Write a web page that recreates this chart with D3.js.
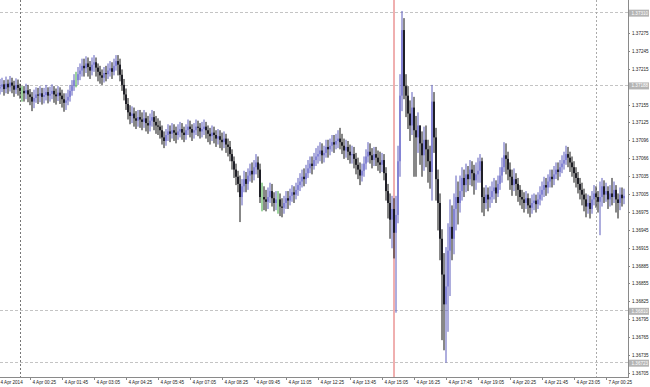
<!DOCTYPE html>
<html>
<head>
<meta charset="utf-8">
<script src="https://cdn.jsdelivr.net/npm/d3@7"></script>
<style>
  body { margin: 0; background: #fff; }
  svg { display: block; }
  .axis text { font-family: "Liberation Sans", Arial, sans-serif; font-size: 4.6px; fill: #222; }
  .axis path, .axis line { stroke: #8a8a8a; shape-rendering: crispEdges; }
</style>
</head>
<body>
<svg id="chart" width="650" height="387"></svg>
<script>
// M5 bars, prices in points (0.00001) above 1.36700; open = previous close
const base = 1.367;
const firstOpen = 482;
const closePts = [
  485,489,481,490,484,492,487,480,488,483,
  478,478,474,479,472,468,460,466,472,470,
  474,468,471,476,470,473,478,472,469,475,
  470,464,458,462,468,478,486,496,496,506,
  512,520,516,524,518,512,522,526,517,510,
  504,500,508,506,512,516,510,520,528,522,
  505,488,472,456,442,436,440,432,428,434,
  430,426,432,424,420,428,434,426,420,418,
  412,400,394,404,410,406,412,408,404,410,
  414,408,404,412,418,414,408,412,418,416,
  410,414,418,412,406,402,408,404,398,402,
  396,392,398,388,384,372,360,346,334,322,
  300,318,330,322,336,344,338,350,358,346,
  300,300,296,292,300,310,298,290,296,296,
  284,282,290,298,294,302,308,304,312,320,
  326,334,330,340,348,356,352,362,368,372,
  378,370,374,384,380,386,392,388,394,398,
  392,386,378,384,376,370,372,364,354,346,
  336,344,356,368,376,370,362,372,366,358,
  354,362,340,310,290,262,280,240,270,360,
  470,580,486,470,440,420,450,412,400,420,
  390,370,396,380,360,342,460,400,330,290,
  230,170,120,150,210,250,230,280,300,290,
  310,332,320,338,330,346,340,328,338,344,
  360,300,290,304,296,300,310,316,306,322,
  336,350,370,364,346,334,320,330,322,312,
  300,296,290,298,286,282,290,294,288,296,
  304,312,320,316,326,334,330,338,346,342,
  350,356,362,372,366,358,350,340,332,322,
  312,304,296,284,290,280,296,306,300,292,
  300,318,304,310,296,306,300,312,296,290,304,298,302
];
const highPts = [
  498,500,496,502,497,503,500,495,499,497,
  490,486,486,490,488,481,476,480,484,483,
  486,483,483,488,484,485,489,486,482,486,
  484,480,474,474,480,488,496,506,510,518,
  524,532,532,536,534,528,534,538,534,524,
  520,514,518,520,524,528,526,532,538,538,
  532,514,498,482,466,454,452,450,444,446,
  446,442,446,442,436,440,446,444,436,432,
  428,420,410,414,422,420,424,422,418,422,
  426,424,418,422,430,428,422,424,430,428,
  424,426,430,426,420,416,420,418,412,414,
  412,408,410,406,398,394,380,368,356,344,
  336,330,344,342,348,356,358,362,372,368,
  356,324,318,312,316,324,322,308,310,310,
  306,298,302,310,310,314,320,318,324,332,
  340,346,348,354,362,368,368,374,382,386,
  392,390,386,396,396,398,404,404,406,412,
  416,406,398,396,394,388,386,384,374,366,
  358,356,368,380,392,390,382,384,384,378,
  376,374,372,350,322,306,302,298,302,386,
  506,612,600,506,486,462,476,468,436,442,
  416,410,418,420,396,386,488,476,416,346,
  306,246,206,216,256,296,286,306,336,326,
  336,350,346,356,352,362,360,354,358,366,
  372,366,316,320,316,318,326,332,328,336,
  350,366,392,390,376,358,346,348,340,332,
  320,312,308,310,306,298,304,306,304,308,
  318,326,334,332,338,346,346,352,358,358,
  362,370,376,386,384,376,368,360,350,342,
  332,324,314,306,304,302,310,320,318,310,
  326,332,328,324,318,320,332,326,320,306,316,316,314
];
const lowPts = [
  472,476,470,474,473,477,474,468,473,470,
  465,460,460,464,459,454,444,449,458,456,
  459,455,457,462,457,460,464,458,455,461,
  456,450,443,446,454,460,470,478,484,488,
  496,502,502,508,502,498,504,510,502,494,
  490,488,492,494,498,502,498,504,512,504,
  494,478,462,446,430,422,424,418,414,418,
  416,412,416,410,406,410,418,412,406,404,
  398,388,382,386,394,392,398,394,390,396,
  400,396,392,396,404,400,394,398,404,402,
  398,400,404,398,392,388,394,390,384,388,
  382,378,382,374,368,360,346,332,320,308,
  258,286,308,308,312,326,324,328,338,332,
  290,276,278,276,280,290,284,276,278,272,
  268,266,272,280,280,286,292,290,296,302,
  310,316,318,322,332,340,338,346,352,356,
  360,356,358,366,366,370,376,374,380,382,
  380,372,364,366,362,356,356,348,338,330,
  320,326,334,346,358,356,348,352,352,344,
  340,342,328,294,264,230,214,197,106,256,
  334,444,464,434,414,394,404,334,334,374,
  354,334,344,350,324,314,294,374,294,244,
  194,60,43,22,74,134,194,204,244,254,
  274,294,300,308,310,320,318,304,312,324,
  324,274,268,280,276,282,290,296,290,300,
  312,324,342,338,328,312,302,310,302,292,
  286,280,274,280,272,266,272,278,274,280,
  286,294,300,302,306,316,316,320,330,328,
  334,340,346,354,350,342,334,324,316,306,
  296,286,276,266,272,264,272,286,282,274,
  236,284,290,292,280,284,286,290,274,264,278,284,288
];
const barsBeforeMidnight = 10;   // first bar is 3 Apr 23:10

// time axis: one label every 16 bars, bar index counted from 4 Apr 00:00
const timeTicks = [-11,5,21,37,53,69,85,101,117,133,149,165,181,197,213,229,245,261,277,293];
const timeLabels = ["4 Apr 2014","4 Apr 00:25","4 Apr 01:45","4 Apr 03:05","4 Apr 04:25","4 Apr 05:45",
  "4 Apr 07:05","4 Apr 08:25","4 Apr 09:45","4 Apr 11:05","4 Apr 12:25","4 Apr 13:45","4 Apr 15:05",
  "4 Apr 16:25","4 Apr 17:45","4 Apr 19:05","4 Apr 20:25","4 Apr 21:45","4 Apr 23:05","7 Apr 00:25"];
const priceLabels = ["1.37275","1.37245","1.37215","1.37185","1.37155","1.37125","1.37096","1.37066",
  "1.37035","1.37005","1.36975","1.36945","1.36915","1.36885","1.36855","1.36825","1.36795",
  "1.36765","1.36735","1.36705"];
const dayBreaks = [0, 288];          // 4 Apr 00:00, 7 Apr 00:00
const eventBar = 187;                // red vertical line
const levelLines = [1.37310, 1.37188, 1.36810, 1.36723];

const svg = d3.select("#chart");
const plotW = 628, plotH = 377;

const x = d3.scaleLinear().domain([0, 288]).range([20, 596]);
const y = d3.scaleLinear().domain([1.366982, 1.373304]).range([plotH, 0]);

const bars = closePts.map(function (c, i) {
  const o = i ? closePts[i - 1] : firstOpen;
  return {
    j: i - barsBeforeMidnight,
    o: base + o / 1e5,
    c: base + c / 1e5,
    h: base + Math.max(highPts[i], o, c) / 1e5,
    l: base + Math.min(lowPts[i], o, c) / 1e5
  };
});

const plot = svg.append("g");
plot.append("defs").append("clipPath").attr("id", "clip")
  .append("rect").attr("width", plotW).attr("height", plotH);
const inner = plot.append("g").attr("clip-path", "url(#clip)");

// horizontal level lines
inner.selectAll(".level").data(levelLines).enter().append("line")
  .attr("x1", 0).attr("x2", plotW)
  .attr("y1", d => Math.round(y(d)) + 0.5).attr("y2", d => Math.round(y(d)) + 0.5)
  .attr("stroke", "#c4c4c4").attr("stroke-dasharray", "3,2");

// day separators
inner.selectAll(".sep").data(dayBreaks).enter().append("line")
  .attr("x1", d => Math.round(x(d)) + 0.5).attr("x2", d => Math.round(x(d)) + 0.5)
  .attr("y1", 0).attr("y2", plotH)
  .attr("stroke", (d, i) => i ? "#aaa" : "#777").attr("stroke-dasharray", "2,2");

// event line
inner.append("line")
  .attr("x1", x(eventBar)).attr("x2", x(eventBar))
  .attr("y1", 0).attr("y2", plotH)
  .attr("stroke", "#e06060").attr("stroke-width", 1);

const g = inner.selectAll(".bar").data(bars).enter().append("g");

g.append("line")
  .attr("x1", d => x(d.j)).attr("x2", d => x(d.j))
  .attr("y1", d => y(d.h)).attr("y2", d => y(d.l))
  .attr("stroke", d => d.c > d.o ? "#5c5cbc" : d.c < d.o ? "#111" : "#3aa83a")
  .attr("stroke-width", 1);

g.filter(d => d.c !== d.o).append("rect")
  .attr("x", d => x(d.j) - 0.9)
  .attr("width", 1.8)
  .attr("y", d => y(Math.max(d.o, d.c)))
  .attr("height", d => Math.max(0.8, Math.abs(y(d.o) - y(d.c))))
  .attr("fill", d => d.c > d.o ? "#8080d4" : "#15151c");

// axes
const xAxis = d3.axisBottom(x).tickValues(timeTicks)
  .tickFormat((d, i) => timeLabels[i]).tickSize(3).tickSizeOuter(0);
const xg = svg.append("g").attr("class", "axis").attr("transform", "translate(0," + plotH + ")").call(xAxis);
xg.select(".domain").attr("d", "M0,0.5H" + plotW);
xg.selectAll("text").attr("text-anchor", "start").attr("x", 2).attr("y", 4);

const yAxis = d3.axisRight(y).tickValues(priceLabels.map(Number))
  .tickFormat((d, i) => priceLabels[i]).tickSize(2).tickSizeOuter(0);
const yg = svg.append("g").attr("class", "axis").attr("transform", "translate(" + plotW + ",0)").call(yAxis);
yg.select(".domain").attr("d", "M0.5,0V" + (plotH + 1));
yg.selectAll("text").attr("x", 4);

// price tags of the level lines
const tags = svg.append("g").selectAll("g").data(levelLines).enter().append("g")
  .attr("transform", d => "translate(" + (plotW + 1) + "," + Math.max(4, y(d) + 1) + ")");
tags.append("rect").attr("x", 0).attr("y", -3.5).attr("width", 20).attr("height", 7).attr("fill", "#b4b4b4");
tags.append("text").attr("x", 2.5).attr("dy", "0.32em")
  .style("font-family", "Liberation Sans, Arial, sans-serif").style("font-size", "4.6px").style("fill", "#fff")
  .text(d => d.toFixed(5));
</script>
</body>
</html>
